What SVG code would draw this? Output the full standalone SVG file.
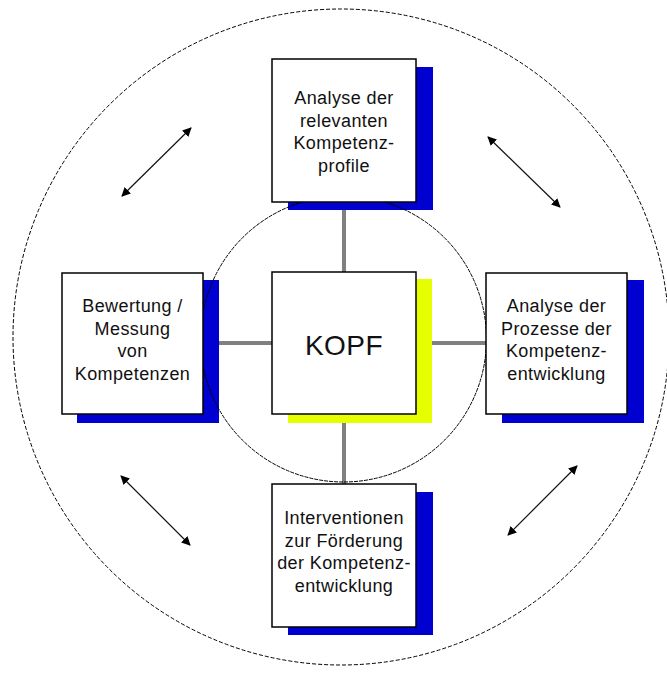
<svg xmlns="http://www.w3.org/2000/svg" width="667" height="675" viewBox="0 0 667 675">
<defs>
<style>
.box{fill:#fff;stroke:#000;stroke-width:1.5}
.sb{fill:#0000d0}
.sy{fill:#e6ff00}
.t{font-family:"Liberation Sans",Arial,sans-serif;font-size:18px;letter-spacing:0.4px;fill:#111;text-anchor:middle}
.k{font-family:"Liberation Sans",Arial,sans-serif;font-size:28px;letter-spacing:0.5px;fill:#111;text-anchor:middle}
.g{stroke:#808080;stroke-width:4;fill:none}
.ar{stroke:#111;stroke-width:1.2;fill:none}
</style>
<marker id="ah" viewBox="0 0 10 10" refX="9" refY="5" markerWidth="9" markerHeight="9" markerUnits="userSpaceOnUse" orient="auto-start-reverse">
<path d="M0,0 L10,5 L0,10 z" fill="#000"/>
</marker>
</defs>
<rect width="667" height="675" fill="#fff"/>
<circle cx="341" cy="337" r="328" fill="none" stroke="#000" stroke-width="1" stroke-dasharray="4,2"/>
<g id="connectors">
<line class="g" x1="344" y1="202" x2="344" y2="272"/>
<line class="g" x1="344" y1="414" x2="344" y2="484"/>
<line class="g" x1="219" y1="343" x2="272" y2="343"/>
<line class="g" x1="432" y1="343" x2="486" y2="343"/>
<line class="ar" x1="122" y1="196" x2="191" y2="128" marker-start="url(#ah)" marker-end="url(#ah)"/>
<line class="ar" x1="488" y1="137" x2="560" y2="207" stroke-width="2" marker-start="url(#ah)" marker-end="url(#ah)"/>
<line class="ar" x1="121" y1="476" x2="190" y2="545" marker-start="url(#ah)" marker-end="url(#ah)"/>
<line class="ar" x1="577" y1="466" x2="508" y2="535" marker-start="url(#ah)" marker-end="url(#ah)"/>
</g>
<g id="shadows">
<rect class="sb" x="288" y="67" width="145" height="143"/>
<rect class="sb" x="77" y="280" width="142" height="143"/>
<rect class="sb" x="502" y="280" width="142" height="143"/>
<rect class="sb" x="288" y="492" width="145" height="143"/>
<rect class="sy" x="288" y="279" width="144" height="144"/>
</g>
<circle cx="343.5" cy="339" r="143" fill="none" stroke="#000" stroke-width="1" stroke-dasharray="4,1"/>
<g id="top">
<rect class="box" x="272" y="59" width="144" height="143"/>
<text class="t" x="344" y="104">Analyse der</text>
<text class="t" x="344" y="126.5">relevanten</text>
<text class="t" x="344" y="149">Kompetenz-</text>
<text class="t" x="344" y="171.5">profile</text>
</g>
<g id="left">
<rect class="box" x="62" y="273" width="141" height="141"/>
<text class="t" x="132.5" y="312">Bewertung /</text>
<text class="t" x="132.5" y="335">Messung</text>
<text class="t" x="132.5" y="357">von</text>
<text class="t" x="132.5" y="380">Kompetenzen</text>
</g>
<g id="right">
<rect class="box" x="486" y="273" width="141" height="141"/>
<text class="t" x="556.5" y="312">Analyse der</text>
<text class="t" x="556.5" y="335">Prozesse der</text>
<text class="t" x="556.5" y="357">Kompetenz-</text>
<text class="t" x="556.5" y="380">entwicklung</text>
</g>
<g id="bottom">
<rect class="box" x="272" y="484" width="144" height="143"/>
<text class="t" x="344" y="524">Interventionen</text>
<text class="t" x="344" y="547">zur Förderung</text>
<text class="t" x="344" y="569">der Kompetenz-</text>
<text class="t" x="344" y="592">entwicklung</text>
</g>
<g id="kopf">
<rect class="box" x="272" y="272" width="144" height="142"/>
<text class="k" x="344" y="355">KOPF</text>
</g>
</svg>
